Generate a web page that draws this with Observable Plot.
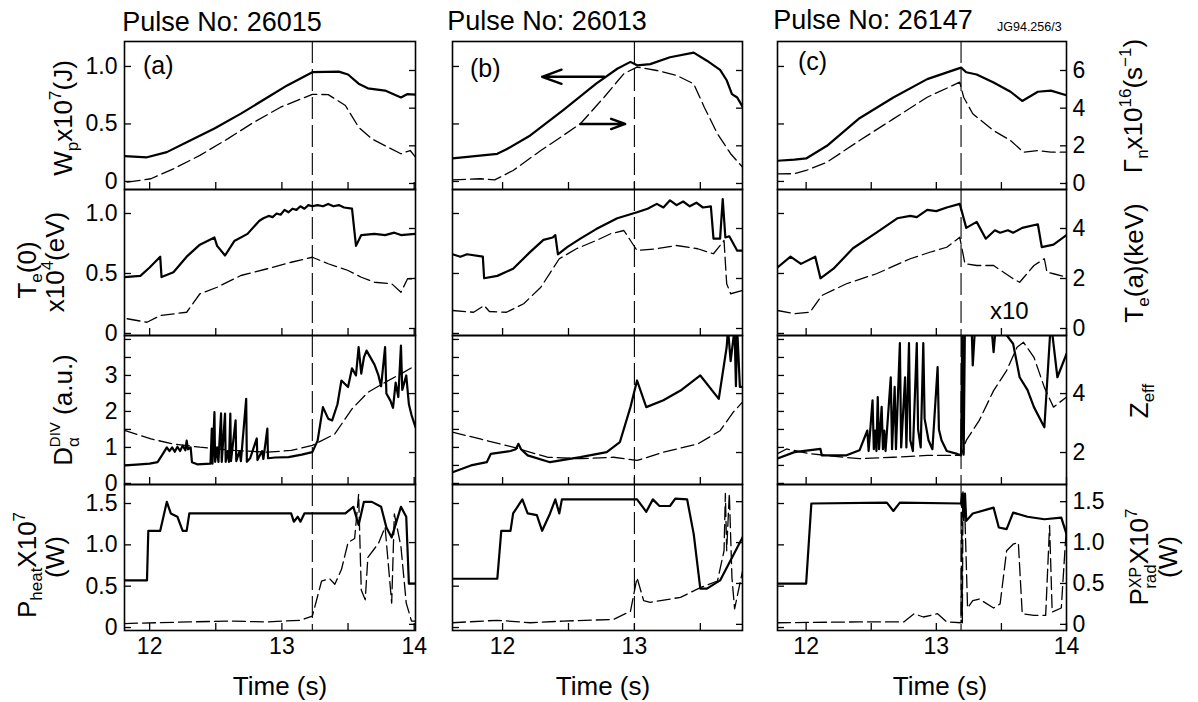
<!DOCTYPE html>
<html><head><meta charset="utf-8">
<script src="https://cdn.jsdelivr.net/npm/d3@7"></script>
<script src="https://cdn.jsdelivr.net/npm/@observablehq/plot@0.6"></script>
<style>
body{margin:0;background:#fff;}
#chart{position:relative;width:1198px;height:702px;overflow:hidden;background:#fff;}
#chart svg{position:absolute;}
</style></head><body><div id="chart"></div>
<script>
// ---------- DATA (time in s, values in axis units) ----------
const pulses = ["26015", "26013", "26147"];
const panelTags = ["(a)", "(b)", "(c)"];
const crashTimes = [13.23, 13.0, 13.19];
const xTickValues = [12, 12.5, 13, 13.5, 14];
const xTickLabels = [[12, 13, 14], [12, 13], [12, 13, 14]];
const leftTicks = [[0, 0.5, 1], [0, 0.5, 1], [0, 0.5, 1, 1.5, 2, 2.5, 3, 3.5, 4], [0, 0.5, 1, 1.5]];
const leftTickLabels = [[0, 0.5, 1], [0, 0.5, 1], [0, 1, 2, 3], [0, 0.5, 1, 1.5]];
const rightTicks = [[0, 2, 4, 6], [0, 2, 4], [2, 4], [0, 0.5, 1, 1.5]];
const rightTickLabels = [[0, 2, 4, 6], [0, 2, 4], [2, 4], [0, 0.5, 1, 1.5]];

// (a) 26015
const a_wp = [[11.81,0.22],[11.98,0.21],[12.13,0.255],[12.28,0.34],[12.49,0.46],[12.69,0.59],[12.89,0.73],[13.04,0.835],[13.23,0.95],[13.43,0.955],[13.5,0.93],[13.58,0.85],[13.65,0.81],[13.78,0.79],[13.9,0.73],[13.95,0.76],[14.01,0.755]];
const a_gn = [[11.83,0.07],[12.01,0.25],[12.18,0.78],[12.38,1.49],[12.59,2.37],[12.79,3.26],[12.99,4.05],[13.23,4.73],[13.35,4.72],[13.48,4.14],[13.58,2.99],[13.68,2.37],[13.8,1.93],[13.9,1.58],[13.97,1.75],[14.01,1.4]];
const a_te = [[11.81,0.47],[11.93,0.48],[12.0,0.55],[12.08,0.64],[12.09,0.47],[12.18,0.51],[12.28,0.64],[12.38,0.74],[12.49,0.80],[12.51,0.73],[12.57,0.65],[12.64,0.77],[12.74,0.83],[12.83,0.94],[12.86,0.96],[12.9,0.98],[12.93,0.97],[12.96,1.0],[12.99,0.99],[13.02,1.03],[13.05,1.01],[13.08,1.04],[13.11,1.03],[13.14,1.06],[13.17,1.04],[13.2,1.07],[13.23,1.06],[13.27,1.07],[13.31,1.06],[13.35,1.08],[13.39,1.06],[13.43,1.07],[13.47,1.05],[13.53,1.04],[13.56,0.73],[13.6,0.82],[13.7,0.83],[13.78,0.82],[13.85,0.84],[13.9,0.82],[14.01,0.83]];
const a_ta = [[11.83,0.39],[11.98,0.25],[12.08,0.52],[12.28,0.65],[12.38,1.39],[12.51,1.65],[12.69,2.12],[12.89,2.39],[13.07,2.65],[13.23,2.85],[13.35,2.59],[13.5,2.32],[13.6,2.05],[13.7,1.85],[13.83,1.79],[13.9,1.45],[13.95,1.99],[14.01,1.99]];
const a_da = [[11.81,0.5],[11.9,0.52],[12.0,0.55],[12.06,0.59],[12.1,0.82],[12.13,1.0],[12.15,0.9],[12.17,1.0],[12.19,0.88],[12.21,1.02],[12.23,0.9],[12.25,1.05],[12.27,0.92],[12.28,1.19],[12.29,0.95],[12.31,1.0],[12.32,0.59],[12.36,0.53],[12.46,0.55],[12.47,1.52],[12.475,0.55],[12.49,1.98],[12.495,0.6],[12.51,1.0],[12.52,0.6],[12.54,1.95],[12.545,0.6],[12.57,1.94],[12.575,0.6],[12.59,0.9],[12.6,0.6],[12.61,1.94],[12.615,0.62],[12.65,1.75],[12.655,0.62],[12.68,0.9],[12.69,0.62],[12.73,2.35],[12.735,0.6],[12.76,0.7],[12.81,1.25],[12.815,0.65],[12.85,0.9],[12.86,0.68],[12.89,1.52],[12.895,0.7],[12.95,0.72],[13.05,0.73],[13.15,0.8],[13.23,0.87],[13.27,1.19],[13.31,2.12],[13.35,1.8],[13.38,1.75],[13.42,2.2],[13.45,2.86],[13.5,2.68],[13.53,3.2],[13.56,3.0],[13.58,3.79],[13.6,3.05],[13.62,3.5],[13.64,3.69],[13.7,3.3],[13.73,3.0],[13.75,2.7],[13.78,3.79],[13.79,2.5],[13.82,2.3],[13.84,2.1],[13.86,2.8],[13.88,2.4],[13.9,3.83],[13.91,2.6],[13.94,3.0],[13.96,2.2],[13.98,1.9],[14.01,1.56]];
const a_ze = [[11.81,2.75],[12.01,2.46],[12.18,2.29],[12.38,2.18],[12.64,2.07],[12.89,2.01],[13.07,2.07],[13.23,2.24],[13.4,2.63],[13.53,3.48],[13.65,4.04],[13.78,4.38],[13.9,4.67],[14.01,4.95]];
const a_ph = [[11.81,0.57],[11.98,0.57],[11.99,1.17],[12.08,1.17],[12.13,1.52],[12.16,1.38],[12.21,1.34],[12.25,1.17],[12.28,1.17],[12.3,1.38],[13.07,1.38],[13.09,1.28],[13.12,1.34],[13.14,1.28],[13.17,1.38],[13.48,1.38],[13.54,1.46],[13.58,1.24],[13.62,1.52],[13.68,1.52],[13.75,1.46],[13.79,1.21],[13.83,1.09],[13.9,1.46],[13.94,1.34],[13.96,0.53],[14.01,0.53]];
const a_pr = [[11.81,0.01],[12.3,0.03],[12.6,0.04],[12.89,0.03],[13.14,0.05],[13.23,0.1],[13.3,0.53],[13.36,0.56],[13.4,0.49],[13.45,0.67],[13.5,1.0],[13.55,1.05],[13.58,1.59],[13.6,0.42],[13.63,0.3],[13.65,0.82],[13.73,0.99],[13.78,1.19],[13.83,0.26],[13.85,1.35],[13.9,0.95],[13.94,0.26],[13.98,0.04],[14.01,0.04]];

// (b) 26013
const b_wp = [[11.62,0.2],[11.96,0.24],[12.03,0.28],[12.21,0.4],[12.46,0.62],[12.71,0.85],[12.87,0.98],[12.97,1.04],[13.02,1.01],[13.12,1.02],[13.27,1.08],[13.45,1.12],[13.55,1.05],[13.65,0.97],[13.70,0.88],[13.74,0.76],[13.78,0.73],[13.82,0.65]];
const b_gn = [[11.62,0.19],[11.83,0.25],[11.94,0.19],[12.08,0.69],[12.29,1.75],[12.46,2.55],[12.59,3.17],[12.77,4.58],[12.92,5.83],[13.02,6.18],[13.17,6.0],[13.32,5.74],[13.45,5.29],[13.53,4.05],[13.63,2.64],[13.73,1.58],[13.82,0.87]];
const b_te = [[11.62,0.66],[11.68,0.64],[11.73,0.66],[11.85,0.64],[11.86,0.46],[11.96,0.48],[12.08,0.54],[12.21,0.68],[12.31,0.78],[12.38,0.8],[12.40,0.82],[12.42,0.66],[12.49,0.72],[12.59,0.79],[12.71,0.87],[12.87,0.96],[13.02,1.01],[13.1,1.04],[13.17,1.08],[13.22,1.05],[13.27,1.11],[13.32,1.07],[13.37,1.1],[13.42,1.06],[13.47,1.09],[13.52,1.05],[13.58,1.06],[13.6,0.79],[13.65,0.79],[13.67,1.12],[13.69,0.8],[13.72,0.81],[13.78,0.69],[13.82,0.69]];
const b_ta = [[11.62,0.72],[11.78,0.65],[11.86,0.92],[11.9,0.68],[12.03,0.65],[12.16,0.99],[12.29,1.65],[12.43,2.79],[12.56,3.19],[12.71,3.52],[12.82,3.79],[12.92,3.92],[12.97,3.52],[13.02,3.12],[13.17,3.19],[13.32,3.32],[13.48,3.19],[13.6,2.99],[13.68,3.52],[13.7,1.79],[13.73,1.39],[13.82,1.52]];
const b_da = [[11.62,0.31],[11.76,0.5],[11.88,0.59],[11.91,0.82],[12.06,0.9],[12.10,0.95],[12.12,1.1],[12.14,0.95],[12.19,0.78],[12.36,0.59],[12.59,0.73],[12.79,0.87],[12.89,1.15],[12.97,2.12],[13.02,2.86],[13.09,2.12],[13.22,2.31],[13.35,2.58],[13.50,3.0],[13.64,2.35],[13.70,3.79],[13.71,4.3],[13.73,3.4],[13.76,4.3],[13.77,2.7],[13.78,4.3],[13.8,2.68],[13.82,2.68]];
const b_ze = [[11.62,2.69],[11.83,2.46],[12.08,2.18],[12.34,1.84],[12.59,1.79],[12.84,1.84],[13.02,1.73],[13.22,2.01],[13.48,2.29],[13.65,2.74],[13.75,3.37],[13.82,3.71]];
const b_ph = [[11.62,0.59],[11.96,0.59],[11.99,1.17],[12.06,1.17],[12.08,1.38],[12.15,1.55],[12.19,1.38],[12.26,1.36],[12.30,1.17],[12.36,1.38],[12.40,1.55],[12.43,1.38],[12.45,1.55],[13.02,1.55],[13.09,1.40],[13.14,1.55],[13.19,1.47],[13.27,1.47],[13.31,1.56],[13.40,1.55],[13.45,1.13],[13.50,0.47],[13.55,0.47],[13.65,0.57],[13.82,1.09]];
const b_pr = [[11.62,0.02],[11.96,0.05],[12.21,0.02],[12.46,0.04],[12.84,0.06],[12.97,0.16],[13.02,0.57],[13.07,0.29],[13.12,0.27],[13.35,0.33],[13.50,0.45],[13.63,0.53],[13.68,0.9],[13.69,1.6],[13.7,0.9],[13.72,1.6],[13.74,0.57],[13.76,0.19],[13.82,0.65]];
const b_arrows = [{x1:12.77,y1:0.91,x2:12.30,y2:0.91},{x1:12.59,y1:0.50,x2:12.93,y2:0.50}];

// (c) 26147
const c_wp = [[11.78,0.18],[11.91,0.19],[12.00,0.2],[12.16,0.31],[12.41,0.55],[12.67,0.73],[12.93,0.89],[13.06,0.94],[13.19,0.99],[13.23,0.95],[13.31,0.93],[13.44,0.86],[13.57,0.78],[13.66,0.7],[13.78,0.78],[13.88,0.79],[14.0,0.75]];
const c_gn = [[11.78,0.51],[11.91,0.52],[12.0,0.69],[12.16,1.13],[12.41,2.28],[12.67,3.43],[12.93,4.58],[13.18,5.38],[13.21,4.58],[13.28,3.7],[13.44,2.81],[13.57,2.28],[13.67,1.66],[13.78,1.75],[13.88,1.66],[14.0,1.66]];
const c_te = [[11.78,0.55],[11.88,0.64],[11.96,0.58],[12.07,0.64],[12.11,0.46],[12.21,0.54],[12.36,0.71],[12.54,0.84],[12.70,0.96],[12.8,0.98],[12.85,0.97],[12.93,1.03],[13.0,1.02],[13.08,1.05],[13.18,1.08],[13.23,0.88],[13.31,0.93],[13.38,0.79],[13.45,0.86],[13.49,0.84],[13.55,0.86],[13.59,0.84],[13.66,0.88],[13.78,0.91],[13.81,0.72],[13.9,0.74],[14.0,0.82]];
const c_ta = [[11.78,0.72],[11.91,0.59],[12.03,0.65],[12.12,1.32],[12.31,1.79],[12.54,2.19],[12.80,2.79],[12.95,3.05],[13.08,3.25],[13.18,3.65],[13.22,2.59],[13.31,2.52],[13.44,2.52],[13.59,1.99],[13.64,1.85],[13.75,2.52],[13.83,2.79],[13.85,2.25],[13.90,2.19],[14.0,2.05]];
const c_da = [[11.78,0.69],[11.91,0.87],[12.11,0.96],[12.12,0.78],[12.31,0.78],[12.41,0.92],[12.47,1.47],[12.48,0.9],[12.51,2.31],[12.52,0.95],[12.53,1.47],[12.54,0.9],[12.55,2.4],[12.56,0.95],[12.58,2.13],[12.59,0.95],[12.6,1.47],[12.61,0.9],[12.65,2.95],[12.66,0.95],[12.68,2.68],[12.69,0.95],[12.72,3.9],[12.73,1.0],[12.76,2.95],[12.77,1.0],[12.79,3.9],[12.8,1.2],[12.82,0.9],[12.85,3.9],[12.86,1.5],[12.88,1.0],[12.9,3.9],[12.91,1.8],[12.94,1.2],[12.97,0.95],[13.01,3.23],[13.02,1.5],[13.04,1.2],[13.08,0.9],[13.16,0.82],[13.19,0.78],[13.2,4.5],[13.21,0.8],[13.22,4.5],[13.27,4.5],[13.28,3.28],[13.3,4.5],[13.42,4.5],[13.44,3.65],[13.46,4.5],[13.59,3.88],[13.64,2.95],[13.70,2.6],[13.75,2.12],[13.83,1.56],[13.88,4.5],[13.93,2.95],[14.0,3.6]];
const c_ze = [[11.78,1.96],[11.85,2.12],[12.03,1.96],[12.16,1.9],[12.41,1.79],[12.67,1.84],[12.93,1.9],[13.19,1.9],[13.23,2.41],[13.33,3.09],[13.44,4.1],[13.54,4.78],[13.62,5.57],[13.67,5.74],[13.75,5.23],[13.83,4.21],[13.90,3.54],[14.0,3.88]];
const c_ph = [[11.78,0.53],[12.00,0.53],[12.04,1.5],[12.62,1.51],[12.67,1.41],[12.72,1.51],[13.19,1.5],[13.2,1.62],[13.21,1.3],[13.22,1.62],[13.23,1.29],[13.28,1.38],[13.44,1.45],[13.48,1.21],[13.54,1.19],[13.59,1.39],[13.70,1.34],[13.83,1.31],[13.96,1.33],[14.0,1.13]];
const c_pr = [[11.78,0.02],[12.41,0.03],[12.75,0.03],[12.83,0.13],[12.90,0.09],[13.01,0.13],[13.08,0.03],[13.19,0.02],[13.195,1.62],[13.2,0.02],[13.205,1.62],[13.22,1.3],[13.24,0.2],[13.28,0.29],[13.33,0.31],[13.44,0.2],[13.49,0.25],[13.54,0.9],[13.59,0.98],[13.63,1.0],[13.66,0.13],[13.75,0.11],[13.84,0.11],[13.87,1.21],[13.89,0.15],[13.96,0.2],[14.0,1.21]];

// series grid [row][col] = [solid (left axis), dashed (right axis)]
const grid = [
  [[a_wp,a_gn],[b_wp,b_gn],[c_wp,c_gn]],
  [[a_te,a_ta],[b_te,b_ta],[c_te,c_ta]],
  [[a_da,a_ze],[b_da,b_ze],[c_da,c_ze]],
  [[a_ph,a_pr],[b_ph,b_pr],[c_ph,c_pr]]
];

// ---------- LAYOUT ----------
const FONT = '"Liberation Sans", Arial, Helvetica, sans-serif';
const M = 50;
const TICK_FS = 23;
const colBox = [{left:124,right:415},{left:452,right:742},{left:777,right:1066}];
const rowBox = [{top:41,bottom:189},{top:189,bottom:335},{top:335,bottom:484},{top:484,bottom:630}];
const xDomains = [[11.81,14.01],[11.62,13.82],[11.78,14.0]];
const leftDomains = [[-0.07,1.217],[-0.017,1.2],[-0.03,4.11],[-0.036,1.73]];
const rightDomains = [[-0.32,7.54],[-0.28,5.56],[0.915,5.97],[-0.075,1.71]];
const f1 = d => d === 0 ? "0" : d.toFixed(1);
const fi = d => String(d);
const leftFmt = [f1, f1, fi, f1];
const rightFmt = [fi, fi, fi, f1];

const chart = document.getElementById("chart");
const baseStyle = {fontFamily: FONT, background: "transparent", overflow: "visible", color: "black"};
const X = d => d[0], Y = d => d[1];

for (let ri = 0; ri < 4; ri++) {
  for (let ci = 0; ci < 3; ci++) {
    const c = colBox[ci], r = rowBox[ri];
    const w = c.right - c.left, h = r.bottom - r.top;
    const xd = xDomains[ci];
    const inX = v => v >= xd[0] - 1e-9 && v <= xd[1] + 1e-9;
    const [solid, dashed] = grid[ri][ci];
    const common = {width: w + 2*M, height: h + 2*M, margin: M, style: baseStyle};
    const leftPlot = Plot.plot({
      ...common,
      x: {domain: xd},
      y: {domain: leftDomains[ri]},
      marks: [
        Plot.ruleX([crashTimes[ci]], {stroke: "black", strokeWidth: 1.1, strokeDasharray: "22,6"}),
        Plot.line(solid, {x: X, y: Y, stroke: "black", strokeWidth: 2.2, strokeLinejoin: "round", clip: true}),
        Plot.frame({stroke: "black", strokeWidth: 1.6}),
        Plot.axisX({ticks: xTickValues.filter(inX), anchor: "bottom", tickSize: 7, dy: -7, strokeWidth: 1.3, tickFormat: () => "", label: null}),
        ri === 3 ? Plot.axisX({ticks: xTickLabels[ci], anchor: "bottom", tickSize: 0, tickPadding: 7, fontSize: TICK_FS, tickFormat: fi, label: null}) : null,
        Plot.axisY({ticks: leftTicks[ri], anchor: "left", tickSize: 7, dx: 7, strokeWidth: 1.3, tickFormat: () => "", label: null}),
        ci === 0 ? Plot.axisY({ticks: leftTickLabels[ri], anchor: "left", tickSize: 0, tickPadding: 7, fontSize: TICK_FS, tickFormat: leftFmt[ri], label: null}) : null,
        (ci === 1 && ri === 0) ? Plot.arrow(b_arrows, {x1: "x1", y1: "y1", x2: "x2", y2: "y2", stroke: "black", strokeWidth: 2.4, headLength: 14, headAngle: 40}) : null
      ]
    });
    const rightPlot = Plot.plot({
      ...common,
      x: {domain: xd, axis: null},
      y: {domain: rightDomains[ri]},
      marks: [
        Plot.line(dashed, {x: X, y: Y, stroke: "black", strokeWidth: 1.3, strokeDasharray: "13,5", clip: true}),
        Plot.axisY({ticks: rightTicks[ri], anchor: "right", tickSize: 7, dx: -7, strokeWidth: 1.3, tickFormat: () => "", label: null}),
        ci === 2 ? Plot.axisY({ticks: rightTickLabels[ri], anchor: "right", tickSize: 0, tickPadding: 6, fontSize: TICK_FS, tickFormat: rightFmt[ri], label: null}) : null
      ]
    });
    for (const p of [leftPlot, rightPlot]) {
      p.style.left = (c.left - M) + "px";
      p.style.top = (r.top - M) + "px";
      p.style.maxWidth = "none";
      chart.appendChild(p);
    }
  }
}

// ---------- TEXT OVERLAY ----------
const ov = d3.select(chart).append("svg")
  .attr("width", 1198).attr("height", 702)
  .style("left", "0px").style("top", "0px")
  .attr("font-family", FONT).attr("fill", "black");

function label(x, y, rot, parts, size, anchor = "middle", extra = {}) {
  const t = ov.append("text")
    .attr("transform", `translate(${x},${y})` + (rot ? " rotate(-90)" : ""))
    .attr("text-anchor", anchor).attr("font-size", size);
  for (const k in extra) t.attr(k, extra[k]);
  for (const p of parts) {
    const s = t.append("tspan").text(typeof p === "string" ? p : p.t);
    if (typeof p !== "string") {
      if (p.sh !== undefined) s.attr("baseline-shift", p.sh);
      if (p.fs) s.attr("font-size", p.fs);
      if (p.dx) s.attr("dx", p.dx);
    }
  }
}
const sub = t => ({t, sh: -6, fs: 17});
const sup = t => ({t, sh: 11, fs: 17});

// titles
const titleX = [222, 547, 873];
const titleY = [31, 30, 29];
pulses.forEach((p, i) => label(titleX[i], titleY[i], false, ["Pulse No: " + p], 27, "middle"));
label(997, 31, false, ["JG94.256/3"], 12.5, "start");
// panel tags
const tagPos = [[143, 74], [470, 77], [798, 70]];
panelTags.forEach((t, i) => label(tagPos[i][0], tagPos[i][1], false, [t], 25, "start"));
label(990, 319, false, ["x10"], 24, "start");
// x titles
[280, 603, 940].forEach(x => label(x, 695, false, ["Time (s)"], 26));

// left axis titles
label(72, 118, true, ["W", sub("p"), "x10", sup("7"), "(J)"], 26);
label(36, 270, true, ["T", sub("e"), "(0)"], 26);
label(64, 262, true, ["x10", sup("4"), "(eV)"], 26);
label(72, 410, true, ["D", {t: "α", sh: -7, fs: 17}, {t: "DIV", sh: 12, fs: 15, dx: -10}, " (a.u.)"], 26);
label(36, 565, true, ["P", sub("heat"), "X10", sup("7")], 26);
label(64, 557, true, ["(W)"], 26);
// right axis titles
label(1142, 106, true, ["Γ", sub("n"), "x10", sup("16"), "(s", sup("−1"), ")"], 26);
label(1143, 263, true, ["T", sub("e"), "(a)(keV)"], 26);
label(1148, 401, true, ["Z", sub("eff")], 26);
label(1148, 557, true, ["P", {t: "XP", sh: 7, fs: 16}, {t: "rad", sh: -8, fs: 17, dx: -22}, "X10", sup("7")], 26);
label(1177, 557, true, ["(W)"], 26);
</script>
</body></html>
